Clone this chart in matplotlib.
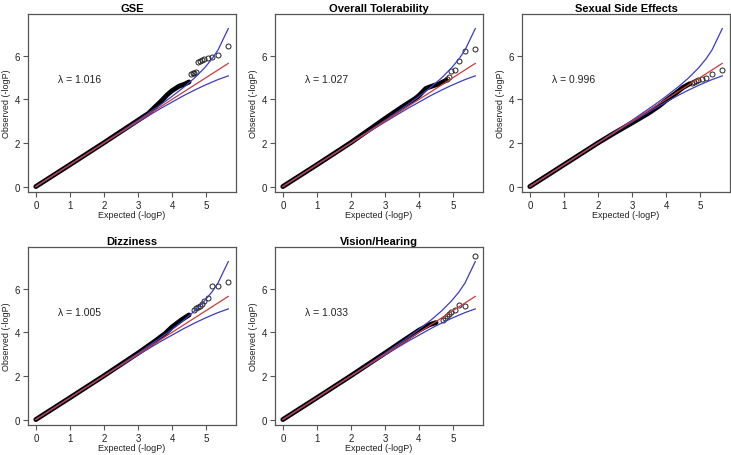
import matplotlib
matplotlib.use("Agg")
import matplotlib.pyplot as plt

plt.rcParams['font.family'] = ['Liberation Sans', 'DejaVu Sans']

titles = ["GSE", "Overall Tolerability", "Sexual Side Effects", "Dizziness", "Vision/Hearing"]
lambdas = ["1.016", "1.027", "0.996", "1.005", "1.033"]

# dense body of the QQ cloud (expected, observed)
body_x = [
    [0, 1, 2, 3, 3.3, 3.5, 3.7, 3.85, 4.0, 4.2, 4.4, 4.5],
    [0, 1, 2, 3, 3.5, 3.9, 4.0, 4.2, 4.31, 4.6, 4.8],
    [0, 1, 2, 2.5, 3, 3.5, 3.8, 4.0, 4.3, 4.5, 4.7],
    [0, 1, 2, 3, 3.5, 3.8, 4.0, 4.3, 4.5],
    [0, 1, 2, 3, 3.5, 4.0, 4.3, 4.5],
]
body_y = [
    [0, 1, 2.01, 3.04, 3.35, 3.65, 3.95, 4.2, 4.4, 4.6, 4.72, 4.8],
    [0, 1, 2.02, 3.12, 3.65, 4.05, 4.18, 4.5, 4.57, 4.72, 4.88],
    [0, 1, 2.0, 2.47, 2.92, 3.38, 3.7, 3.95, 4.3, 4.55, 4.72],
    [0, 1, 2.01, 3.05, 3.6, 3.95, 4.25, 4.6, 4.8],
    [0, 1, 2.01, 3.05, 3.58, 4.1, 4.35, 4.45],
]
# individual tail points
tail_x = [
    [5.65, 5.35, 5.18, 5.05, 4.95, 4.87, 4.81, 4.75, 4.70, 4.65, 4.61, 4.57],
    [5.65, 5.35, 5.18, 5.05, 4.95, 4.87, 4.81],
    [5.65, 5.35, 5.18, 5.05, 4.95, 4.87, 4.81, 4.75],
    [5.65, 5.35, 5.18, 5.05, 4.95, 4.87, 4.81, 4.75, 4.70, 4.65],
    [5.65, 5.35, 5.18, 5.05, 4.95, 4.87, 4.81, 4.75, 4.70],
]
tail_y = [
    [6.47, 6.03, 5.93, 5.88, 5.84, 5.79, 5.74, 5.70, 5.24, 5.22, 5.20, 5.17],
    [6.33, 6.22, 5.78, 5.33, 5.32, 5.05, 4.92],
    [5.35, 5.16, 4.96, 4.92, 4.88, 4.84, 4.80, 4.76],
    [6.30, 6.15, 6.12, 5.60, 5.45, 5.30, 5.22, 5.15, 5.10, 5.05],
    [7.50, 5.23, 5.26, 5.03, 4.92, 4.85, 4.75, 4.65, 4.55],
]
# confidence band and reference line
ci_x = [0, 2.0, 3.0, 3.653, 3.954, 4.352, 4.653, 4.954, 5.176, 5.352, 5.653]
ci_upper = [0, 2.0, 3.04, 3.742, 4.084, 4.566, 4.972, 5.443, 5.861, 6.27, 7.25]
ci_lower = [0, 2.0, 2.96, 3.572, 3.834, 4.181, 4.42, 4.643, 4.794, 4.91, 5.08]
ref_x = [0, 5.653]
ref_y = [0, 5.653]

xticks = [0, 1, 2, 3, 4, 5]
yticks = [0, 2, 4, 6]

W, H = 731, 456
fig = plt.figure(figsize=(W / 100, H / 100), dpi=100)

lefts = [28, 275, 522, 28, 275]
tops = [15, 15, 15, 248, 248]
pw, ph = 208, 178

blue = '#3c3cc4'
red = '#cc3b3b'
boxc = '#555555'

for i in range(5):
    ax = fig.add_axes([lefts[i] / W, 1 - (tops[i] + ph) / H, pw / W, ph / H])
    ax.plot(body_x[i], body_y[i], color='black', lw=3.5, solid_capstyle='round',
            solid_joinstyle='round', zorder=2)
    ax.plot(tail_x[i], tail_y[i], linestyle='none', marker='o', markersize=3.6,
            markerfacecolor='none', markeredgecolor='#222222', markeredgewidth=0.7, zorder=2)
    ax.plot(ci_x, ci_upper, color=blue, lw=0.9, zorder=3)
    ax.plot(ci_x, ci_lower, color=blue, lw=0.9, zorder=3)
    ax.plot(ref_x, ref_y, color=red, lw=0.9, zorder=4)
    ax.set_xlim(-0.23, 5.88)
    ax.set_ylim(-0.25, 7.92)
    ax.set_xticks(xticks)
    ax.set_yticks(yticks)
    ax.tick_params(direction='out', length=3.5, width=0.8, color=boxc,
                   labelsize=7, pad=2, labelcolor='#222222')
    for s in ax.spines.values():
        s.set_color(boxc)
        s.set_linewidth(0.9)
    ax.set_title(titles[i], fontsize=8, fontweight='bold', pad=2.5)
    ax.set_xlabel("Expected (-logP)", fontsize=6.5, labelpad=0.5, color='#222222')
    ax.set_ylabel("Observed (-logP)", fontsize=6.5, labelpad=3, color='#222222')
    ax.text(0.65, 4.95, "λ = " + lambdas[i], fontsize=7.5, ha='left', va='center',
            color='#222222')

fig.savefig("out.png", dpi=100)
